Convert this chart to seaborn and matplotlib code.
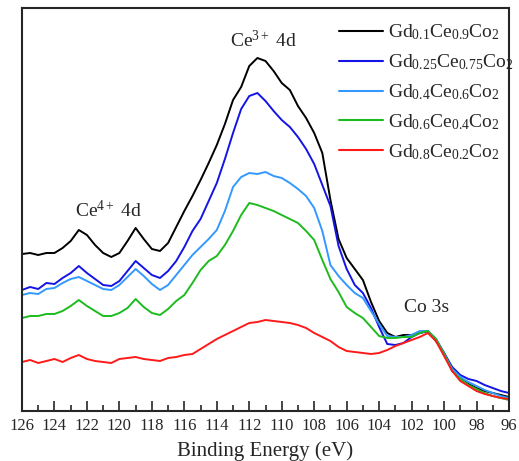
import numpy as np
import pandas as pd
import matplotlib
matplotlib.use("Agg")
import matplotlib.pyplot as plt
import seaborn as sns
from matplotlib.ticker import MultipleLocator

# binding energy grid (eV), 126 -> 96 in 0.5 eV steps
energy = np.arange(126.0, 95.9, -0.5)

# intensities (arb. units)
gd01 = [157, 158, 156, 158, 158, 163, 170, 181, 176, 166,
        158, 154, 158, 170, 183, 172, 162, 160, 168, 184,
        200, 215, 231, 248, 266, 287, 311, 324, 345, 353,
        350, 340, 328, 321, 305, 293, 278, 258, 211, 172,
        153, 142, 131, 109, 90, 78, 74, 76, 76, 78,
        80, 70, 58, 40, 32, 27, 23, 20, 18, 16, 14]
gd025 = [121, 124, 122, 128, 127, 133, 138, 145, 138, 132,
         126, 125, 130, 140, 150, 143, 136, 133, 140, 150,
         164, 180, 192, 210, 228, 252, 278, 302, 315, 318,
         310, 300, 291, 284, 274, 262, 247, 226, 205, 165,
         142, 126, 118, 103, 84, 67, 66, 68, 74, 78,
         80, 72, 58, 44, 36, 32, 30, 26, 23, 20, 18]
gd04 = [116, 118, 117, 122, 123, 128, 132, 134, 130, 126,
        122, 121, 126, 134, 142, 135, 127, 121, 126, 136,
        146, 156, 164, 172, 181, 200, 224, 234, 238, 237,
        239, 235, 233, 228, 222, 215, 203, 180, 146, 135,
        126, 118, 113, 100, 87, 75, 74, 74, 76, 80,
        80, 72, 57, 42, 34, 29, 25, 21, 18, 15, 13]
gd06 = [93, 95, 95, 97, 97, 100, 105, 111, 105, 100,
        95, 95, 98, 103, 112, 104, 98, 96, 102, 110,
        116, 128, 141, 150, 155, 166, 180, 196, 208, 206,
        203, 200, 196, 192, 188, 180, 171, 151, 132, 119,
        104, 98, 93, 84, 75, 73, 73, 74, 74, 78,
        80, 72, 57, 40, 32, 26, 22, 18, 15, 13, 11]
gd08 = [49, 51, 48, 50, 52, 49, 53, 56, 52, 50,
        49, 48, 52, 53, 54, 52, 51, 50, 53, 54,
        56, 57, 62, 67, 72, 76, 80, 84, 88, 89,
        91, 90, 89, 88, 86, 83, 78, 74, 70, 64,
        60, 59, 58, 57, 58, 61, 65, 68, 71, 74,
        78, 70, 55, 40, 30, 25, 20, 17, 15, 13, 12]

labels = [r"Gd$_{0.1}$Ce$_{0.9}$Co$_{2}$",
          r"Gd$_{0.25}$Ce$_{0.75}$Co$_{2}$",
          r"Gd$_{0.4}$Ce$_{0.6}$Co$_{2}$",
          r"Gd$_{0.6}$Ce$_{0.4}$Co$_{2}$",
          r"Gd$_{0.8}$Ce$_{0.2}$Co$_{2}$"]
series = [gd01, gd025, gd04, gd06, gd08]
colors = ["#000000", "#1414E6", "#3399FF", "#1EBB1E", "#FF1A1A"]

frames = []
for lab, vals in zip(labels, series):
    frames.append(pd.DataFrame({"energy": energy, "intensity": vals, "sample": lab}))
df = pd.concat(frames, ignore_index=True)

sns.set_style("ticks")
plt.rcParams["font.family"] = ["Liberation Serif", "DejaVu Serif"]
plt.rcParams["mathtext.fontset"] = "custom"
plt.rcParams["mathtext.rm"] = "Liberation Serif"
plt.rcParams["mathtext.it"] = "Liberation Serif:italic"

fig = plt.figure(figsize=(5.19, 4.61), dpi=100)
ax = fig.add_axes([22 / 519, 50 / 461, 487 / 519, 403 / 461])

sns.lineplot(data=df, x="energy", y="intensity", hue="sample", palette=colors,
             hue_order=labels, linewidth=1.4, ax=ax, sort=False, estimator=None)

ax.set_xlim(126, 96)
ax.set_ylim(0, 403)
ax.xaxis.set_major_locator(MultipleLocator(2))
ax.xaxis.set_minor_locator(MultipleLocator(1))
ax.tick_params(axis="x", which="major", direction="in", length=7, width=1.2,
               labelsize=12, pad=5)
ax.tick_params(axis="x", which="minor", direction="in", length=4, width=1.2)
ax.set_yticks([])
ax.set_ylabel("")
ax.set_xlabel("Binding Energy (eV)", fontsize=15, labelpad=5)
for sp in ax.spines.values():
    sp.set_linewidth(1.5)
    sp.set_visible(True)

ax.text(111.15, 371, r"Ce$^{3+}$ 4d", fontsize=14, ha="center", va="center")
ax.text(120.7, 201, r"Ce$^{4+}$ 4d", fontsize=14, ha="center", va="center")
ax.text(101.1, 103, "Co 3s", fontsize=14, ha="center", va="center")

leg = ax.legend(loc="upper left", bbox_to_anchor=(0.638, 0.978), frameon=False,
                fontsize=14, handlelength=2.3, handletextpad=0.25,
                labelspacing=0.52, borderaxespad=0, borderpad=0.3)
for line in leg.get_lines():
    line.set_linewidth(1.5)

fig.savefig("out.png", dpi=100)
